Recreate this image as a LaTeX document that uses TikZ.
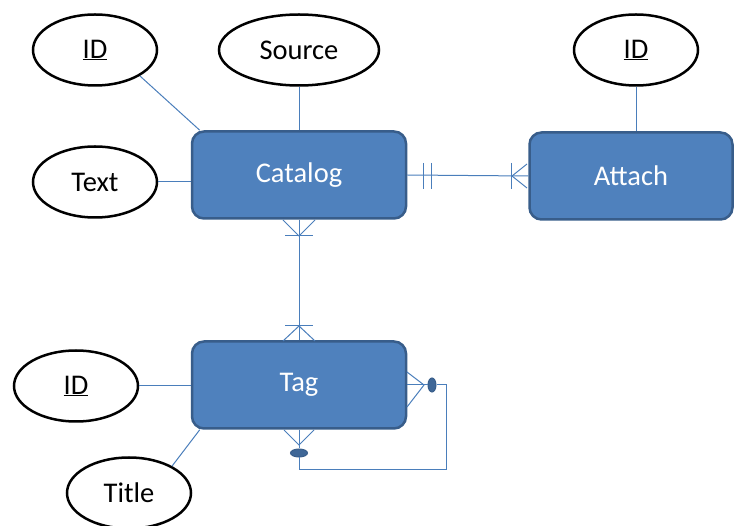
\documentclass[tikz,border=0pt]{standalone}
\usepackage{fontspec}
\setmainfont{Carlito}
\usetikzlibrary{shapes.geometric}

\definecolor{boxblue}{HTML}{4F81BD}
\definecolor{boxedge}{HTML}{385D8A}
\definecolor{linkblue}{HTML}{4A7EBB}

\tikzset{
  entity/.style={draw=boxedge, line width=2.5pt, fill=boxblue, rounded corners=12pt,
    text=white, minimum width=214pt, minimum height=87pt,
    font=\fontsize{28.5}{33}\selectfont},
  attrib/.style={ellipse, draw=black, line width=2.5pt, fill=white, inner sep=0pt,
    minimum width=124pt, minimum height=71pt, font=\fontsize{28.5}{33}\selectfont},
  optmark/.style={ellipse, draw=boxedge, fill=boxblue!80!black, line width=1pt, inner sep=0pt},
  link/.style={draw=linkblue, line width=1pt},
}

\begin{document}
\begin{tikzpicture}[x=1pt,y=-1pt]
  \useasboundingbox (0,0) rectangle (734,526);

  % entities
  \node[entity] (catalog) at (299,175) {Catalog};
  \node[entity, minimum width=203pt] (attach) at (631,176) {Attach};
  \node[entity] (tag) at (299,385) {Tag};

  % attributes
  \node[attrib] (catid) at (95,50) {\underline{ID}};
  \node[attrib, minimum width=160pt] (source) at (299,50) {Source};
  \node[attrib] (text) at (95,182) {Text};
  \node[attrib] (attid) at (636,50) {\underline{ID}};
  \node[attrib] (tagid) at (76,386) {\underline{ID}};
  \node[attrib] (title) at (129,493) {Title};

  % attribute links
  \draw[link] (catid.-30) -- ([xshift=9pt]catalog.north west);
  \draw[link] (source.south) -- (catalog.north);
  \draw[link] (text.east) -- (text.east -| catalog.west);
  \draw[link] (attid.south) -- (attid.south |- attach.north);
  \draw[link] (tagid.east) -- (tagid.east -| tag.west);
  \draw[link] (title.32) -- ([xshift=9pt]tag.south west);

  % Catalog -- Attach (one to many)
  \draw[link] (catalog.east) -- (attach.west);
  \draw[link] (423,163) -- (423,189);
  \draw[link] (431,163) -- (431,189);
  \draw[link] (511,163) -- (511,189);
  \draw[link] (527,164) -- (512,176) -- (527,188);

  % Catalog -- Tag (many to many)
  \draw[link] (catalog.south) -- (tag.north);
  \draw[link] (283,220) -- (299,236) -- (315,220);
  \draw[link] (285,236) -- (313,236);
  \draw[link] (285,326) -- (313,326);
  \draw[link] (283,341) -- (299,326) -- (315,341);

  % Tag -- Tag (optional, many to many)
  \node[optmark, minimum width=8pt, minimum height=14pt] (optR) at (432,385) {};
  \node[optmark, minimum width=17pt, minimum height=8pt] (optB) at (299,453) {};
  \draw[link] (tag.east) -- (optR.west);
  \draw[link] (407,372) -- (424,385) -- (407,407);
  \draw[link] (tag.south) -- (optB.north);
  \draw[link] (284,430) -- (299,445) -- (314,430);
  \draw[link] (optR.east) -| ++(10,85) -| (optB.south);

\end{tikzpicture}
\end{document}
